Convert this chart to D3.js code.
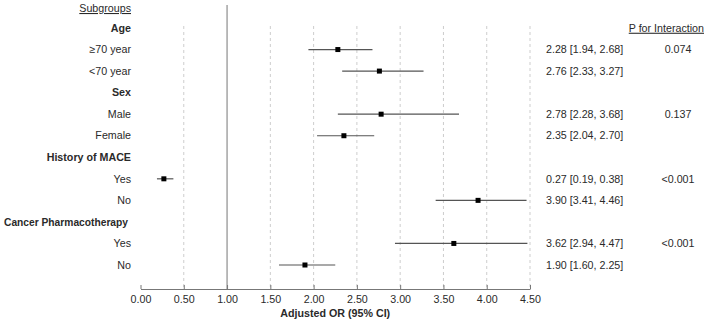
<!DOCTYPE html>
<html>
<head>
<meta charset="utf-8">
<script src="https://cdn.jsdelivr.net/npm/d3@7"></script>
<style>
  body { margin: 0; background: #fff; }
  text { font-family: "Liberation Sans", Arial, sans-serif; font-size: 10.7px; fill: #2a2a2a; }
  .hdr { font-weight: bold; }
</style>
</head>
<body>
<script>
// rows top to bottom, header rows have no estimate
const labels = ["Age", "≥70 year", "<70 year", "Sex", "Male", "Female",
                "History of MACE", "Yes", "No", "Cancer Pharmacotherapy", "Yes", "No"];
const isHeader = [true, false, false, true, false, false, true, false, false, true, false, false];
const estimates = [null, 2.28, 2.76, null, 2.78, 2.35, null, 0.27, 3.90, null, 3.62, 1.90];
const lowerCI   = [null, 1.94, 2.33, null, 2.28, 2.04, null, 0.19, 3.41, null, 2.94, 1.60];
const upperCI   = [null, 2.68, 3.27, null, 3.68, 2.70, null, 0.38, 4.46, null, 4.47, 2.25];
const pValues   = ["", "0.074", "", "", "0.137", "", "", "<0.001", "", "", "<0.001", ""];
const xTicks = [0, 0.5, 1, 1.5, 2, 2.5, 3, 3.5, 4, 4.5];

const W = 709, H = 323;
const svg = d3.select("body").append("svg").attr("width", W).attr("height", H);

const x = d3.scaleLinear().domain([0, 4.5]).range([140.5, 530]);
const y = d3.scalePoint().domain(d3.range(labels.length)).range([28, 265]);
const axisY = 289;

// dashed gridlines
svg.append("g").selectAll("line")
  .data(xTicks.filter(t => t !== 1 && t !== 0))
  .join("line")
    .attr("x1", d => x(d)).attr("x2", d => x(d))
    .attr("y1", 26).attr("y2", axisY)
    .attr("stroke", "#cdcdcd").attr("stroke-dasharray", "3,3");

// reference line at OR = 1
svg.append("line")
  .attr("x1", x(1)).attr("x2", x(1)).attr("y1", 5).attr("y2", axisY)
  .attr("stroke", "#777").attr("stroke-width", 1);

// x axis
const xAxis = svg.append("g")
  .attr("transform", `translate(0,${axisY})`)
  .call(d3.axisBottom(x).tickValues(xTicks).tickFormat(d3.format(".2f")).tickSize(4).tickSizeOuter(0));
xAxis.select(".domain").attr("stroke", "#777");
xAxis.selectAll(".tick line").attr("stroke", "#777").attr("transform", "translate(0,-4)");
xAxis.selectAll(".tick text")
  .attr("y", 6).attr("dy", "0.71em")
  .style("font-family", "'Liberation Sans', Arial, sans-serif").style("font-size", "10.7px").attr("fill", "#2a2a2a");

svg.append("text")
  .attr("class", "hdr")
  .attr("x", x(2.25)).attr("y", 317)
  .attr("text-anchor", "middle")
  .text("Adjusted OR (95% CI)");

// left labels
svg.append("text")
  .attr("x", 131).attr("y", 12)
  .attr("text-anchor", "end")
  .attr("text-decoration", "underline")
  .text("Subgroups");

svg.append("g").selectAll("text")
  .data(labels)
  .join("text")
    .attr("class", (d, i) => isHeader[i] ? "hdr" : null)
    .attr("x", (d, i) => isHeader[i] && i === 9 ? 128 : 131)
    .attr("y", (d, i) => y(i))
    .attr("dy", "0.35em")
    .attr("text-anchor", "end")
    .text(d => d)
    .each(function() {
      // squeeze the long header so it stays inside the left edge
      const w = this.getComputedTextLength();
      if (w > 124) d3.select(this).attr("textLength", 124).attr("lengthAdjust", "spacingAndGlyphs");
    });

const rows = d3.range(labels.length).filter(i => !isHeader[i]);

// CI lines and point estimates
svg.append("g").selectAll("line")
  .data(rows)
  .join("line")
    .attr("x1", i => x(lowerCI[i])).attr("x2", i => x(upperCI[i]))
    .attr("y1", i => y(i)).attr("y2", i => y(i))
    .attr("stroke", "#555").attr("stroke-width", 1.2);

svg.append("g").selectAll("rect")
  .data(rows)
  .join("rect")
    .attr("x", i => x(estimates[i]) - 2.5).attr("y", i => y(i) - 2.5)
    .attr("width", 5).attr("height", 5)
    .attr("fill", "#000");

// right-hand text
svg.append("g").selectAll("text")
  .data(rows)
  .join("text")
    .attr("x", 546).attr("y", i => y(i)).attr("dy", "0.35em")
    .text(i => `${estimates[i].toFixed(2)} [${lowerCI[i].toFixed(2)}, ${upperCI[i].toFixed(2)}]`);

svg.append("text")
  .attr("x", 704).attr("y", y(0)).attr("dy", "0.35em")
  .attr("text-anchor", "end")
  .attr("text-decoration", "underline")
  .text("P for Interaction");

svg.append("g").selectAll("text")
  .data(rows.filter(i => pValues[i]))
  .join("text")
    .attr("x", 678).attr("y", i => y(i)).attr("dy", "0.35em")
    .attr("text-anchor", "middle")
    .text(i => pValues[i]);
</script>
</body>
</html>
